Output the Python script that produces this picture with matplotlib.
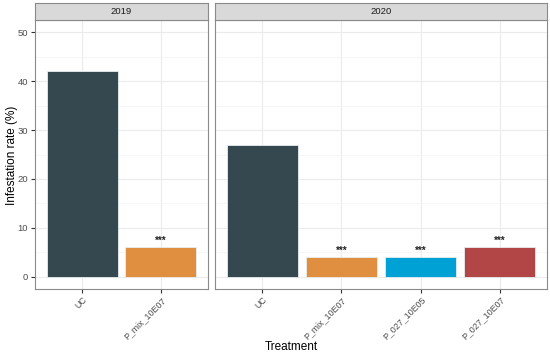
import matplotlib.pyplot as plt
from matplotlib.ticker import MultipleLocator

plt.rcParams['font.family'] = ['Liberation Sans', 'DejaVu Sans']

# data
years = ["2019", "2020"]
treat_2019 = ["UC", "P_mix_10E07"]
rate_2019 = [42, 6]
treat_2020 = ["UC", "P_mix_10E07", "P_027_10E05", "P_027_10E07"]
rate_2020 = [27, 4, 4, 6]
signif_2019 = ["", "***"]
signif_2020 = ["", "***", "***", "***"]

colors = {"UC": "#36484F", "P_mix_10E07": "#E08E3F",
          "P_027_10E05": "#00A1D5", "P_027_10E07": "#B24646"}

W, H = 550, 355
fig = plt.figure(figsize=(W / 100, H / 100), dpi=100)
bottom, top = 1 - 289 / H, 1 - 20 / H
strip_h = 17 / H
ax1 = fig.add_axes([35 / W, bottom, (208 - 35) / W, top - bottom])
ax2 = fig.add_axes([215 / W, bottom, (547 - 215) / W, top - bottom])

tick_grey = "#4D4D4D"
border = "#8A8A8A"
for ax, yr, cats, vals, sig in [(ax1, years[0], treat_2019, rate_2019, signif_2019),
                                (ax2, years[1], treat_2020, rate_2020, signif_2020)]:
    x = list(range(1, len(cats) + 1))
    ax.bar(x, vals, width=0.9, color=[colors[c] for c in cats],
           edgecolor="#E8EEF0", linewidth=0.6, zorder=3)
    for xi, v, s in zip(x, vals, sig):
        if s:
            ax.text(xi, v + 0.3, s, ha="center", va="bottom", fontsize=7,
                    fontweight="bold", color="#222222", zorder=4)
    ax.set_xlim(0.4, len(cats) + 0.6)
    ax.set_ylim(-2.5, 52.5)
    ax.set_xticks(x)
    ax.set_xticklabels(cats, rotation=45, ha="right", va="top",
                       rotation_mode="anchor", fontsize=6.4, color=tick_grey)
    ax.yaxis.set_major_locator(MultipleLocator(10))
    ax.yaxis.set_minor_locator(MultipleLocator(5))
    ax.grid(True, which="major", color="#EBEBEB", linewidth=0.8, zorder=0)
    ax.grid(True, which="minor", axis="y", color="#F3F3F3", linewidth=0.5, zorder=0)
    ax.tick_params(axis="y", which="major", length=3, color="#333333",
                   labelsize=6.8, labelcolor=tick_grey, pad=2)
    ax.tick_params(axis="x", which="major", length=3, color="#333333",
                   labelcolor=tick_grey, pad=1.5)
    ax.tick_params(axis="y", which="minor", length=0)
    for sp in ax.spines.values():
        sp.set_color(border)
        sp.set_linewidth(0.8)
    ax.set_axisbelow(True)
    # facet strip
    pos = ax.get_position()
    sax = fig.add_axes([pos.x0, pos.y1, pos.width, strip_h])
    sax.set_facecolor("#D9D9D9")
    sax.set_xticks([])
    sax.set_yticks([])
    for sp in sax.spines.values():
        sp.set_color(border)
        sp.set_linewidth(0.8)
    sax.text(0.5, 0.5, yr, transform=sax.transAxes, ha="center", va="center",
             fontsize=6.8, color="#1A1A1A")

ax2.tick_params(axis="y", left=False, labelleft=False)
fig.text(12 / W, 1 - 155 / H, "Infestation rate (%)", rotation=90,
         ha="center", va="center", fontsize=8.5)
fig.text(291 / W, 1 - 347 / H, "Treatment", ha="center", va="center", fontsize=8.5)

fig.savefig("out.png", dpi=100)
